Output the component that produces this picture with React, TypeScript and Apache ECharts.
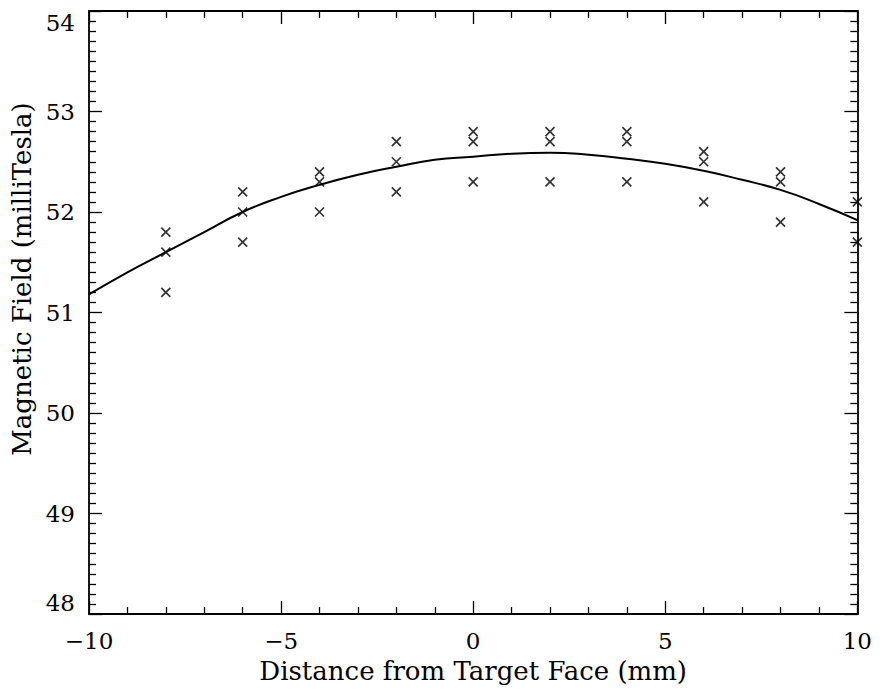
import React, { useEffect, useRef } from "react";
import * as echarts from "echarts";

const pointX: number[] = [-8, -8, -8, -6, -6, -6, -4, -4, -4, -2, -2, -2, 0, 0, 0, 2, 2, 2, 4, 4, 4, 6, 6, 6, 8, 8, 8, 10, 10];
const pointY: number[] = [51.8, 51.6, 51.2, 52.2, 52.0, 51.7, 52.4, 52.3, 52.0, 52.7, 52.5, 52.2, 52.8, 52.7, 52.3, 52.8, 52.7, 52.3, 52.8, 52.7, 52.3, 52.6, 52.5, 52.1, 52.4, 52.3, 51.9, 52.1, 51.7];

const curveX: number[] = [-10, -9, -8, -7, -6, -5, -4, -3, -2, -1, 0, 1, 2, 3, 4, 5, 6, 7, 8, 9, 10];
const curveY: number[] = [51.18, 51.4, 51.6, 51.8, 52.0, 52.15, 52.27, 52.37, 52.45, 52.52, 52.55, 52.58, 52.59, 52.57, 52.53, 52.48, 52.41, 52.32, 52.22, 52.08, 51.92];

const xTitle = "Distance from Target Face (mm)";
const yTitle = "Magnetic Field (milliTesla)";

const FONT = "DejaVu Serif";

export default function App() {
  const ref = useRef<HTMLDivElement>(null);
  useEffect(() => {
    if (!ref.current) return;
    const chart = echarts.init(ref.current, null, { renderer: "svg" });
    const minus = (v: number) => String(v).replace("-", "\u2212");
    const baseAxis = {
      axisLine: { show: true, onZero: false, lineStyle: { color: "#000", width: 1.8 } },
      axisTick: { show: true, inside: true, length: 13, lineStyle: { color: "#000", width: 1.3 } },
      minorTick: { show: true, length: 7, lineStyle: { color: "#000", width: 1.3 } },
      splitLine: { show: false },
    };
    chart.setOption({
      animation: false,
      backgroundColor: "#fff",
      grid: { left: 81, right: 12, top: 3, bottom: 66, containLabel: false },
      xAxis: [
        {
          type: "value", min: -10, max: 10, interval: 5, position: "bottom",
          ...baseAxis,
          minorTick: { ...baseAxis.minorTick, splitNumber: 5 },
          axisLabel: { color: "#000", fontFamily: FONT, fontSize: 23, margin: 15, formatter: minus },
          name: xTitle, nameLocation: "middle", nameGap: 44,
          nameTextStyle: { color: "#000", fontFamily: FONT, fontSize: 26 },
        },
        {
          type: "value", min: -10, max: 10, interval: 5, position: "top",
          ...baseAxis,
          minorTick: { ...baseAxis.minorTick, splitNumber: 5 },
          axisLabel: { show: false },
        },
      ],
      yAxis: [
        {
          type: "value", min: 48, max: 54, interval: 1, position: "left",
          ...baseAxis,
          minorTick: { ...baseAxis.minorTick, splitNumber: 10 },
          axisLabel: {
            color: "#000", fontFamily: FONT, fontSize: 23, margin: 14,
            verticalAlignMaxLabel: "top", verticalAlignMinLabel: "bottom",
          },
        },
        {
          type: "value", min: 48, max: 54, interval: 1, position: "right",
          ...baseAxis,
          minorTick: { ...baseAxis.minorTick, splitNumber: 10 },
          axisLabel: { show: false },
        },
      ],
      graphic: [
        {
          type: "text", x: 14, y: 271, rotation: Math.PI / 2,
          style: { text: yTitle, fontFamily: FONT, fontSize: 26, fill: "#000", textAlign: "center", textVerticalAlign: "middle" },
        },
      ],
      series: [
        {
          type: "line",
          data: curveX.map((x, i) => [x, curveY[i]]),
          smooth: true,
          showSymbol: false,
          lineStyle: { color: "#000", width: 2 },
          silent: true,
        },
        {
          type: "scatter",
          data: pointX.map((x, i) => [x, pointY[i]]),
          symbol: "path://M0,0L10,10M10,0L0,10",
          symbolSize: 9,
          itemStyle: { color: "transparent", borderColor: "#000", borderWidth: 1.7 },
        },
      ],
    });
    return () => chart.dispose();
  }, []);
  return <div ref={ref} style={{ width: 867, height: 681 }} />;
}
